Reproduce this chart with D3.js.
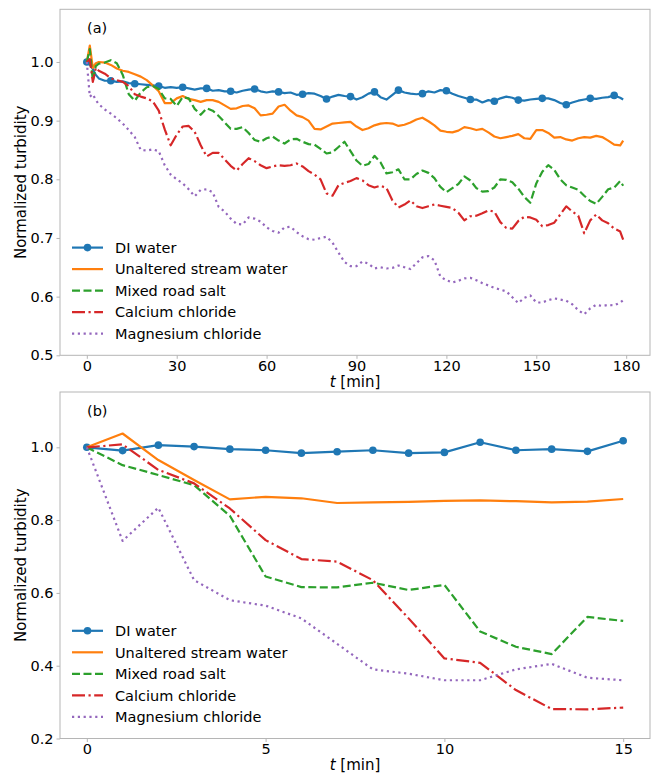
<!DOCTYPE html>
<html>
<head>
<meta charset="utf-8">
<script src="https://cdn.jsdelivr.net/npm/d3@7"></script>
<style>
  body { margin: 0; background: #fff; }
  svg text { font-family: "DejaVu Sans", sans-serif; fill: #000; }
</style>
</head>
<body>
<div id="chart"></div>
<script>
// ---- data, panel (a): long run, minutes ----
const tA = [0, 1, 2, 3].concat(d3.range(4, 179, 2), [179]);

const aDI = [1.000, 0.995, 0.988, 0.978,
  0.972, 0.968, 0.968, 0.966, 0.967, 0.964, 0.963, 0.962,
  0.961, 0.960, 0.959, 0.956, 0.957, 0.956, 0.957, 0.955, 0.953, 0.955,
  0.955, 0.951, 0.952, 0.950, 0.950, 0.948, 0.951, 0.953, 0.954, 0.950,
  0.948, 0.950, 0.949, 0.947, 0.948, 0.944, 0.945, 0.947, 0.946, 0.942,
  0.937, 0.941, 0.944, 0.942, 0.941, 0.936, 0.940, 0.946, 0.949, 0.940,
  0.936, 0.944, 0.952, 0.948, 0.946, 0.945, 0.946, 0.950, 0.948, 0.952,
  0.951, 0.946, 0.942, 0.939, 0.936, 0.936, 0.931, 0.935, 0.933, 0.938,
  0.941, 0.939, 0.935, 0.934, 0.936, 0.937, 0.938, 0.938, 0.935, 0.930,
  0.927, 0.931, 0.934, 0.936, 0.938, 0.937, 0.939, 0.940, 0.943, 0.939,
  0.936];

const aStream = [1.000, 1.028, 0.990, 0.998,
  1.000, 0.999, 0.995, 0.989, 0.985, 0.983, 0.979, 0.975,
  0.969, 0.960, 0.950, 0.930, 0.930, 0.938, 0.942, 0.937, 0.935, 0.932,
  0.935, 0.935, 0.932, 0.926, 0.920, 0.921, 0.925, 0.926, 0.921, 0.909,
  0.910, 0.912, 0.924, 0.927, 0.917, 0.909, 0.906, 0.900, 0.886, 0.885,
  0.890, 0.895, 0.896, 0.897, 0.898, 0.890, 0.884, 0.887, 0.892, 0.895,
  0.896, 0.895, 0.891, 0.893, 0.897, 0.902, 0.905, 0.899, 0.892, 0.883,
  0.881, 0.880, 0.883, 0.889, 0.887, 0.884, 0.886, 0.880, 0.873, 0.870,
  0.872, 0.874, 0.877, 0.870, 0.869, 0.884, 0.884, 0.879, 0.871, 0.872,
  0.868, 0.866, 0.870, 0.872, 0.871, 0.874, 0.872, 0.866, 0.859, 0.858,
  0.866];

const aMixed = [1.000, 1.022, 0.968, 0.993,
  0.997, 0.999, 1.003, 0.998, 0.978, 0.945, 0.934, 0.948,
  0.957, 0.959, 0.954, 0.938, 0.937, 0.925, 0.940, 0.938, 0.920, 0.910,
  0.921, 0.917, 0.908, 0.897, 0.886, 0.886, 0.889, 0.879, 0.867, 0.864,
  0.870, 0.873, 0.866, 0.861, 0.868, 0.869, 0.864, 0.860, 0.859, 0.852,
  0.844, 0.846, 0.855, 0.864, 0.848, 0.832, 0.823, 0.826, 0.840, 0.829,
  0.810, 0.812, 0.817, 0.800, 0.800, 0.809, 0.815, 0.811, 0.802, 0.787,
  0.778, 0.785, 0.792, 0.805, 0.798, 0.785, 0.779, 0.780, 0.786, 0.800,
  0.799, 0.795, 0.784, 0.770, 0.760, 0.793, 0.813, 0.824, 0.816, 0.800,
  0.790, 0.786, 0.782, 0.772, 0.763, 0.758, 0.770, 0.783, 0.786, 0.797,
  0.789];

const aCa = [1.000, 1.005, 0.966, 0.990,
  0.985, 0.980, 0.972, 0.969, 0.966, 0.959, 0.945, 0.941,
  0.938, 0.933, 0.917, 0.885, 0.858, 0.876, 0.890, 0.891, 0.881, 0.858,
  0.839, 0.845, 0.845, 0.834, 0.823, 0.815, 0.826, 0.836, 0.831, 0.824,
  0.819, 0.822, 0.824, 0.823, 0.824, 0.827, 0.822, 0.814, 0.808, 0.800,
  0.776, 0.772, 0.790, 0.794, 0.797, 0.802, 0.798, 0.790, 0.786, 0.789,
  0.785, 0.764, 0.752, 0.757, 0.764, 0.754, 0.751, 0.754, 0.757, 0.755,
  0.753, 0.751, 0.743, 0.730, 0.737, 0.738, 0.742, 0.747, 0.745, 0.727,
  0.717, 0.716, 0.729, 0.736, 0.735, 0.731, 0.720, 0.722, 0.726, 0.740,
  0.754, 0.745, 0.738, 0.708, 0.730, 0.740, 0.730, 0.725, 0.716, 0.711,
  0.697];

const aMg = [1.000, 0.941, 0.945, 0.935,
  0.928, 0.919, 0.912, 0.904, 0.895, 0.884, 0.872, 0.850,
  0.849, 0.851, 0.848, 0.824, 0.808, 0.800, 0.793, 0.783, 0.771, 0.782,
  0.783, 0.778, 0.753, 0.745, 0.733, 0.724, 0.723, 0.735, 0.733, 0.728,
  0.718, 0.712, 0.709, 0.718, 0.719, 0.710, 0.703, 0.698, 0.697, 0.700,
  0.702, 0.692, 0.675, 0.659, 0.652, 0.652, 0.660, 0.656, 0.648, 0.650,
  0.648, 0.649, 0.653, 0.650, 0.647, 0.657, 0.667, 0.669, 0.662, 0.634,
  0.628, 0.624, 0.627, 0.631, 0.632, 0.628, 0.623, 0.619, 0.615, 0.612,
  0.609, 0.599, 0.589, 0.598, 0.602, 0.590, 0.590, 0.594, 0.597, 0.595,
  0.593, 0.587, 0.577, 0.570, 0.580, 0.586, 0.584, 0.586, 0.585, 0.590,
  0.594];

// ---- data, panel (b): first 15 minutes ----
const tB = [0, 1, 2, 3, 4, 5, 6, 7, 8, 9, 10, 11, 12, 13, 14, 15];
const bDI = [1.000, 0.991, 1.006, 1.002, 0.995, 0.992, 0.984, 0.988, 0.992, 0.984, 0.986, 1.014, 0.992, 0.995, 0.989, 1.018];
const bStream = [1.000, 1.038, 0.965, 0.910, 0.857, 0.864, 0.860, 0.847, 0.849, 0.850, 0.853, 0.854, 0.852, 0.849, 0.851, 0.858];
const bMixed = [1.000, 0.951, 0.924, 0.896, 0.812, 0.645, 0.616, 0.615, 0.628, 0.608, 0.622, 0.494, 0.452, 0.432, 0.534, 0.523];
const bCa = [1.000, 1.008, 0.938, 0.901, 0.832, 0.745, 0.693, 0.686, 0.635, 0.530, 0.420, 0.408, 0.333, 0.281, 0.280, 0.285];
const bMg = [1.000, 0.743, 0.834, 0.635, 0.580, 0.565, 0.530, 0.460, 0.390, 0.378, 0.360, 0.360, 0.390, 0.405, 0.367, 0.360];

const names = ['DI water', 'Unaltered stream water', 'Mixed road salt', 'Calcium chloride', 'Magnesium chloride'];
const ticksA = [0, 30, 60, 90, 120, 150, 180];
const ticksB = [0, 5, 10, 15];
const yTicksA = [0.5, 0.6, 0.7, 0.8, 0.9, 1.0];
const yTicksB = [0.2, 0.4, 0.6, 0.8, 1.0];

// ---- styles ----
const LW = 2.2;
const styles = [
  { color: '#1f77b4', dash: null, marker: true },
  { color: '#ff7f0e', dash: null },
  { color: '#2ca02c', dash: '8,3.5' },
  { color: '#d62728', dash: '13,3.5,2.2,3.5' },
  { color: '#9467bd', dash: '2.2,3.6' }
];

const W = 656, H = 774;
const svg = d3.select('#chart').append('svg')
  .attr('width', W).attr('height', H)
  .style('background', '#fff');

const panels = [
  {
    key: 'a', top: 9.3, bottom: 355.3, xDom: [-8.95, 187.95], yDom: [0.5, 1.0898],
    xTicks: ticksA, yTicks: yTicksA, t: tA,
    series: [aDI, aStream, aMixed, aCa, aMg],
    markAt: (t) => t % 8 === 0
  },
  {
    key: 'b', top: 392, bottom: 738.5, xDom: [-0.75, 15.75], yDom: [0.2, 1.152],
    xTicks: ticksB, yTicks: yTicksB, t: tB,
    series: [bDI, bStream, bMixed, bCa, bMg],
    markAt: () => true
  }
];

const left = 60, right = 650;
const spine = '#b5b5b5';

panels.forEach((p) => {
  const x = d3.scaleLinear().domain(p.xDom).range([left, right]);
  const y = d3.scaleLinear().domain(p.yDom).range([p.bottom, p.top]);
  const g = svg.append('g');

  g.append('clipPath').attr('id', `clip-${p.key}`)
    .append('rect')
    .attr('x', left).attr('y', p.top)
    .attr('width', right - left).attr('height', p.bottom - p.top);

  // axes
  const xAxis = g.append('g')
    .attr('transform', `translate(0,${p.bottom})`)
    .call(d3.axisBottom(x).tickValues(p.xTicks).tickSize(3.5).tickPadding(2).tickFormat(d3.format('d')));
  const yAxis = g.append('g')
    .attr('transform', `translate(${left},0)`)
    .call(d3.axisLeft(y).tickValues(p.yTicks).tickSize(3.5).tickPadding(3).tickFormat(d3.format('.1f')));
  [xAxis, yAxis].forEach((ax) => {
    ax.select('.domain').remove();
    ax.selectAll('.tick line').attr('stroke', spine).attr('stroke-width', 1);
    ax.selectAll('.tick text').style('font-size', '14.5px').style('font-family', '"DejaVu Sans", sans-serif');
  });

  g.append('rect')
    .attr('x', left).attr('y', p.top)
    .attr('width', right - left).attr('height', p.bottom - p.top)
    .attr('fill', 'none').attr('stroke', spine).attr('stroke-width', 1);

  // lines
  const plot = g.append('g').attr('clip-path', `url(#clip-${p.key})`);
  p.series.forEach((vals, i) => {
    const st = styles[i];
    const pts = vals.map((v, j) => [p.t[j], v]);
    const line = d3.line().x((d) => x(d[0])).y((d) => y(d[1]));
    plot.append('path')
      .datum(pts)
      .attr('d', line)
      .attr('fill', 'none')
      .attr('stroke', st.color)
      .attr('stroke-width', LW)
      .attr('stroke-linejoin', 'round')
      .attr('stroke-dasharray', st.dash);
    if (st.marker) {
      plot.selectAll(null)
        .data(pts.filter((d) => p.markAt(d[0])))
        .join('circle')
        .attr('cx', (d) => x(d[0]))
        .attr('cy', (d) => y(d[1]))
        .attr('r', 3.8)
        .attr('fill', st.color);
    }
  });

  // panel label
  g.append('text')
    .attr('x', left + 27).attr('y', p.top + 24)
    .style('font-size', '14.5px')
    .text(`(${p.key})`);

  // axis labels
  const xl = g.append('text')
    .attr('x', (left + right) / 2).attr('y', p.bottom + 31.5)
    .attr('text-anchor', 'middle')
    .style('font-size', '15px');
  xl.append('tspan').style('font-style', 'italic').text('t');
  xl.append('tspan').text(' [min]');

  g.append('text')
    .attr('transform', `translate(26,${(p.top + p.bottom) / 2}) rotate(-90)`)
    .attr('text-anchor', 'middle')
    .style('font-size', '15px')
    .text('Normalized turbidity');

  // legend
  const rowH = 21.5;
  const lg = g.append('g');
  names.forEach((n, i) => {
    const st = styles[i];
    const cy = p.bottom - 21.7 - (names.length - 1 - i) * rowH;
    lg.append('line')
      .attr('x1', 72).attr('x2', 103).attr('y1', cy).attr('y2', cy)
      .attr('stroke', st.color).attr('stroke-width', LW)
      .attr('stroke-dasharray', st.dash);
    if (st.marker) {
      lg.append('circle').attr('cx', 87.5).attr('cy', cy).attr('r', 3.8).attr('fill', st.color);
    }
    lg.append('text')
      .attr('x', 115).attr('y', cy + 5.3)
      .style('font-size', '14.5px')
      .text(n);
  });
});
</script>
</body>
</html>
